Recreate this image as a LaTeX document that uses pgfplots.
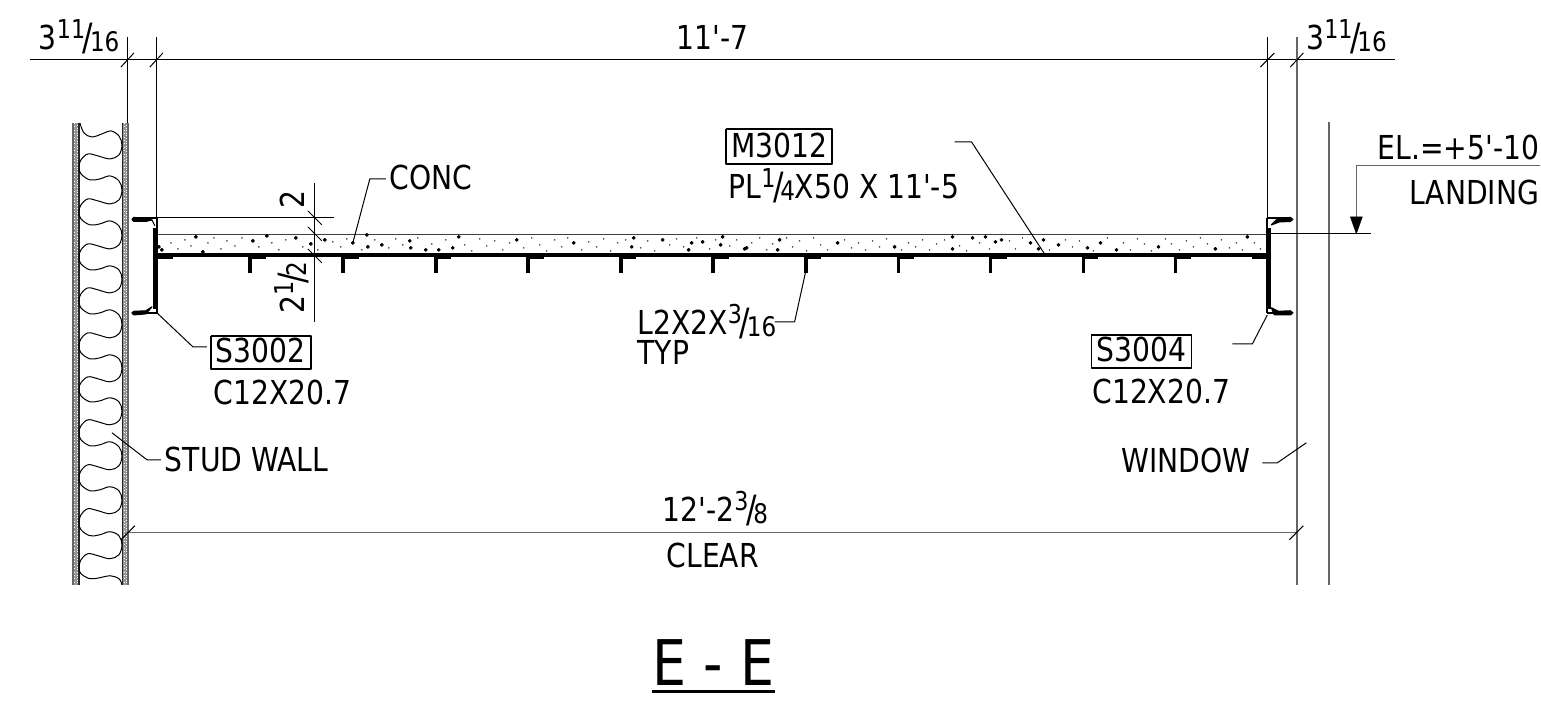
\documentclass[border=0pt]{standalone}
\usepackage{fontspec}
\setmainfont[FakeStretch=0.95,Ligatures=TeXOff]{DejaVu Sans Condensed}
\usepackage{graphicx}
\usepackage{pgfplots}
\pgfplotsset{compat=1.18}
% one pixel of the reference = 0.5pt
\newcommand{\fr}[2]{\raisebox{0.34em}{\fontsize{13pt}{13pt}\selectfont #1}\kern-0.07em\raisebox{-0.03em}{\scalebox{1.1}[1.14]{/}}\kern-0.1em\raisebox{-0.05em}{\fontsize{13.5pt}{13.5pt}\selectfont #2}}
\tikzset{
  thn/.style={black, line width=0.5pt},
  gr/.style={black!60, line width=0.75pt},
  tx/.style={anchor=base west, inner sep=0pt, outer sep=0pt, font=\fontsize{16.5pt}{16.5pt}\selectfont},
  txr/.style={anchor=base east, inner sep=0pt, outer sep=0pt, font=\fontsize{16.5pt}{16.5pt}\selectfont},
}
\begin{document}
\begin{tikzpicture}
\begin{axis}[
  hide axis, scale only axis, width=770.5pt, height=352pt,
  xmin=0, xmax=1541, ymin=0, ymax=704, y dir=reverse, clip=false,
  every axis plot/.append style={no markers, line join=round},
]
\path (axis cs:0,0) rectangle (axis cs:1541,704);
% wall stipple
\addplot[black!42, line width=3pt] coordinates {(75.5,123) (75.5,585)};
\addplot[black!42, line width=3pt] coordinates {(125,123) (125,585)};
\addplot[white, line width=0.4pt, dash pattern=on 0.5pt off 1.2pt] coordinates {(74.5,123) (74.5,585)};
\addplot[white, line width=0.4pt, dash pattern=on 0.4pt off 0.9pt] coordinates {(77,125) (77,585)};
\addplot[white, line width=0.4pt, dash pattern=on 0.5pt off 1.2pt] coordinates {(124,123) (124,585)};
\addplot[white, line width=0.4pt, dash pattern=on 0.4pt off 0.9pt] coordinates {(126,125) (126,585)};
\addplot[gr] coordinates {(73,123) (73,585)};
\addplot[black!85, line width=0.8pt] coordinates {(79,123) (79,585)};
\addplot[black!85, line width=0.7pt] coordinates {(122.5,123) (122.5,585)};
\addplot[gr] coordinates {(128,123) (128,585)};
% insulation wave
\addplot[thn, smooth, tension=0.6] coordinates {
(80,123)(84,133)(92,137)(102,134)(111,131)(119,136)
(122,145)(119,155)(110,159)(98,156)(88,154)(81,160)(79,167)(81,174)(90,180)(100,179)(110,176)(119,181)
(122,190)(119,200)(110,204)(98,201)(88,199)(81,205)(79,212)(81,219)(90,225)(100,224)(110,221)(119,226)
(122,235)(119,245)(110,249)(98,246)(88,244)(81,250)(79,257)(81,264)(90,270)(100,269)(110,266)(119,270)
(122,279)(119,289)(110,293)(98,290)(88,288)(81,294)(79,301)(81,308)(90,314)(100,313)(110,310)(119,315)
(122,324)(119,334)(110,338)(98,335)(88,333)(81,339)(79,346)(81,353)(90,359)(100,358)(110,355)(119,359)
(122,368)(119,378)(110,382)(98,379)(88,377)(81,383)(79,389)(81,396)(90,402)(100,401)(110,398)(119,402)
(122,411)(119,421)(110,425)(98,422)(88,420)(81,426)(79,433)(81,440)(90,446)(100,445)(110,442)(119,447)
(122,456)(119,466)(110,470)(98,467)(88,465)(81,471)(79,478)(81,485)(90,491)(100,490)(110,487)(119,491)
(122,500)(119,510)(110,514)(98,511)(88,509)(81,515)(79,523)(81,530)(90,536)(100,535)(110,532)(119,536)
(122,545)(119,555)(110,559)(98,556)(88,554)(81,560)(79,568)(81,574)(90,579)(100,578)(110,576)(119,579)(122,585)};
% top dimension
\addplot[thn] coordinates {(30,60) (1396,60)};
\addplot[thn] coordinates {(157,37) (157,219)};
\addplot[thn] coordinates {(1268,37) (1268,219)};
\addplot[thn] coordinates {(128,37) (128,123)};
\addplot[gr] coordinates {(1297.5,37) (1297.5,585)};
\addplot[gr] coordinates {(1329.5,122) (1329.5,585)};
\addplot[thn] coordinates {(121,67) (134,53)};
\addplot[thn] coordinates {(150,67) (163,53)};
\addplot[thn] coordinates {(1261,67) (1275,53)};
\addplot[thn] coordinates {(1291,67) (1304,53)};
% elevation
\addplot[gr] coordinates {(1541,165.7) (1357,165.7) (1357,220)};
\addplot[black, fill=black, line width=0.2pt] coordinates {(1351,217) (1363,217) (1357,234) (1351,217)};
\addplot[thn] coordinates {(1270,234) (1372,234)};
% slab
\addplot[black!75, line width=0.7pt] coordinates {(157,234.5) (1268,234.5)};
\addplot[black, line width=2.3pt] coordinates {(158,255) (1268,255)};
% angles
\addplot[black, line width=1.9pt] coordinates {(250,257) (250,273)};
\addplot[black, line width=1.9pt] coordinates {(343,257) (343,273)};
\addplot[black, line width=1.9pt] coordinates {(436,257) (436,273)};
\addplot[black, line width=1.9pt] coordinates {(528,257) (528,273)};
\addplot[black, line width=1.9pt] coordinates {(621,257) (621,273)};
\addplot[black, line width=1.9pt] coordinates {(713,257) (713,273)};
\addplot[black, line width=1.9pt] coordinates {(806,257) (806,273)};
\addplot[black, line width=1.9pt] coordinates {(899,257) (899,273)};
\addplot[black, line width=1.9pt] coordinates {(991,257) (991,273)};
\addplot[black, line width=1.9pt] coordinates {(1084,257) (1084,273)};
\addplot[black, line width=1.9pt] coordinates {(1176,257) (1176,273)};
\addplot[black, line width=1pt] coordinates {(158,258) (173,258)};
\addplot[black, line width=1pt] coordinates {(250,258) (266,258)};
\addplot[black, line width=1pt] coordinates {(343,258) (359,258)};
\addplot[black, line width=1pt] coordinates {(436,258) (451,258)};
\addplot[black, line width=1pt] coordinates {(528,258) (544,258)};
\addplot[black, line width=1pt] coordinates {(621,258) (636,258)};
\addplot[black, line width=1pt] coordinates {(713,258) (729,258)};
\addplot[black, line width=1pt] coordinates {(806,258) (821,258)};
\addplot[black, line width=1pt] coordinates {(899,258) (914,258)};
\addplot[black, line width=1pt] coordinates {(991,258) (1007,258)};
\addplot[black, line width=1pt] coordinates {(1084,258) (1099,258)};
\addplot[black, line width=1pt] coordinates {(1176,258) (1192,258)};
\addplot[black, line width=1pt] coordinates {(1253,258) (1268,258)};
% left channel
\addplot[black, line width=2.5pt] coordinates {(156,228) (156,309)};
\addplot[black, line width=1pt] coordinates {(157.5,218.5) (157.5,232)};
\addplot[black, line width=1pt] coordinates {(157,218.5) (135,218.5)};
\addplot[black, fill=black, line width=0.6pt] coordinates {(134,217.5) (132,219.5) (134,221.5) (146,221.5) (152,220) (146,219.5) (134,217.5)};
\addplot[black, line width=0.5pt] coordinates {(152,220) (155,226)};
\addplot[black, line width=1pt] coordinates {(157.5,304) (157.5,313)};
\addplot[black, line width=1pt] coordinates {(157,313.5) (135,313.5)};
\addplot[black, fill=black, line width=0.6pt] coordinates {(134,311.5) (132,313) (134,315) (146,314) (152,307) (146,311) (134,311.5)};
% right channel
\addplot[black, line width=2.5pt] coordinates {(1269.5,228) (1269.5,309)};
\addplot[black, line width=1pt] coordinates {(1268,218.5) (1268,232)};
\addplot[black, line width=1pt] coordinates {(1268,218.5) (1290,218.5)};
\addplot[black, fill=black, line width=0.6pt] coordinates {(1291,217.5) (1293.5,219.5) (1291,221.5) (1280,222) (1272,225) (1277,220) (1291,217.5)};
\addplot[black, line width=1pt] coordinates {(1268,304) (1268,313)};
\addplot[black, line width=1pt] coordinates {(1268,313.5) (1290,313.5)};
\addplot[black, fill=black, line width=0.6pt] coordinates {(1291,311) (1293.5,313) (1291,315) (1275,315) (1272,308) (1279,311.5) (1291,311)};
% left small dimension
\addplot[thn] coordinates {(157,218) (334,218)};
\addplot[thn] coordinates {(315,183) (315,322)};
\addplot[thn] coordinates {(308,211) (322,225)};
\addplot[thn] coordinates {(308,227) (322,241)};
\addplot[thn] coordinates {(308,249) (322,263)};
% bottom dimension
\addplot[gr] coordinates {(128,533) (1297,533)};
\addplot[thn] coordinates {(121,540) (135,526)};
\addplot[thn] coordinates {(1290,540) (1304,526)};
% leaders
\addplot[thn] coordinates {(353,243) (370,179) (386,179)};
\addplot[thn] coordinates {(955,142) (972,142) (1045,254)};
\addplot[thn] coordinates {(157,313) (193,347) (207,347)};
\addplot[thn] coordinates {(1268,315) (1253,344) (1233,344)};
\addplot[thn] coordinates {(806,272) (795,322) (775,322)};
\addplot[thn] coordinates {(112,433) (147,460) (161,460)};
\addplot[thn] coordinates {(1263,463) (1278,463) (1307,443)};
% boxes
\addplot[black, line width=0.9pt] coordinates {(726,129) (832,129) (832,164) (726,164) (726,129)};
\addplot[black, line width=0.9pt] coordinates {(211,336) (311,336) (311,369) (211,369) (211,336)};
\addplot[black, line width=0.9pt] coordinates {(1092,335) (1192,335) (1192,368) (1092,368) (1092,335)};
% underline of the title
\addplot[black, line width=1.3pt] coordinates {(652,692) (775,692)};
% coarse aggregate of the concrete
\addplot[only marks, mark=*, mark size=0.75pt, black, mark options={draw=black, fill=black}] coordinates {
(196,237)(253,241)(267,236)(296,238)(325,240)(311,244)(203,252)(162,250)(159,247)
(353,243)(368,247)(382,245)(410,241)(411,248)(426,250)(439,250)(453,248)(459,237)
(517,240)(574,243)(634,238)(632,247)(367,235)(663,240)(692,243)(703,242)(689,250)
(723,237)(721,245)(747,248)(745,249)(780,240)(778,250)(838,243)(895,247)(953,237)
(953,249)(973,238)(986,237)(996,242)(1002,240)(1031,243)(1044,240)(1039,249)(1059,245)
(1088,248)(1101,243)(1117,250)(1159,247)(1216,249)(1248,237)};
% fine sand of the concrete
\addplot[only marks, mark=*, mark size=0.22pt, black!70, mark options={draw=none, fill=black!70}] coordinates {
(171,243)(178,249)(185,240)(191,246)(208,243)(214,238)(221,249)(227,241)(235,246)(242,238)
(259,247)(272,243)(279,250)(286,240)(303,247)(318,250)(333,242)(341,247)(347,239)(362,250)
(375,240)(389,248)(396,239)(403,245)(418,238)(432,244)(446,240)(465,245)(472,251)(480,239)
(487,246)(495,241)(503,250)(510,243)(524,248)(532,238)(540,245)(547,251)(555,240)(562,247)
(568,238)(582,250)(589,242)(597,247)(604,239)(611,251)(618,243)(626,240)(641,248)(648,241)
(655,251)(670,245)(677,239)(684,247)(697,238)(710,249)(716,240)(730,246)(737,240)(752,243)
(760,238)(767,250)(773,244)(787,238)(793,247)(800,241)(807,251)(814,238)(821,245)(828,250)
(845,240)(852,248)(859,243)(866,250)(873,241)(880,247)(887,239)(902,250)(909,243)(916,247)
(923,240)(930,250)(937,244)(945,240)(960,246)(967,251)(980,243)(990,249)(1010,241)(1016,249)
(1023,238)(1050,250)(1066,240)(1073,247)(1080,241)(1094,251)(1108,238)(1124,243)(1131,250)
(1138,239)(1145,244)(1152,251)(1166,239)(1172,244)(1180,250)(1187,241)(1194,247)(1201,238)
(1208,244)(1222,240)(1230,248)(1237,243)(1243,250)(1255,243)(1261,249)};
% texts
\node[tx] at (axis cs:39,50) {3\fr{11}{16}};
\node[tx] at (axis cs:677,50) {11'-7};
\node[tx] at (axis cs:1307,50) {3\fr{11}{16}};
\node[tx] at (axis cs:732,158) {M3012};
\node[tx] at (axis cs:729,199) {PL\fr{1}{4}X50 X 11'-5};
\node[tx] at (axis cs:390,190) {CONC};
\node[txr] at (axis cs:1540,160) {EL.=+5'-10};
\node[txr] at (axis cs:1540,205) {LANDING};
\node[tx] at (axis cs:216,363) {S3002};
\node[tx] at (axis cs:214,405) {C12X20.7};
\node[tx] at (axis cs:638,335) {L2X2X\fr{3}{16}};
\node[tx] at (axis cs:638,365) {TYP};
\node[tx] at (axis cs:1097,362) {S3004};
\node[tx] at (axis cs:1093,404) {C12X20.7};
\node[tx] at (axis cs:165,472) {STUD WALL};
\node[tx] at (axis cs:1122,473) {WINDOW};
\node[tx] at (axis cs:663,522) {12'-2\fr{3}{8}};
\node[tx] at (axis cs:667,568) {CLEAR};
\node[anchor=base, inner sep=0pt, rotate=90, font=\fontsize{16.5pt}{16.5pt}\selectfont] at (axis cs:305,200) {2};
\node[anchor=base, inner sep=0pt, rotate=90, font=\fontsize{16.5pt}{16.5pt}\selectfont] at (axis cs:305,288) {2\fr{1}{2}};
\node[anchor=base, inner sep=0pt, font=\fontsize{31.5pt}{31.5pt}\selectfont] at (axis cs:714,686) {E - E};
\end{axis}
\end{tikzpicture}
\end{document}
